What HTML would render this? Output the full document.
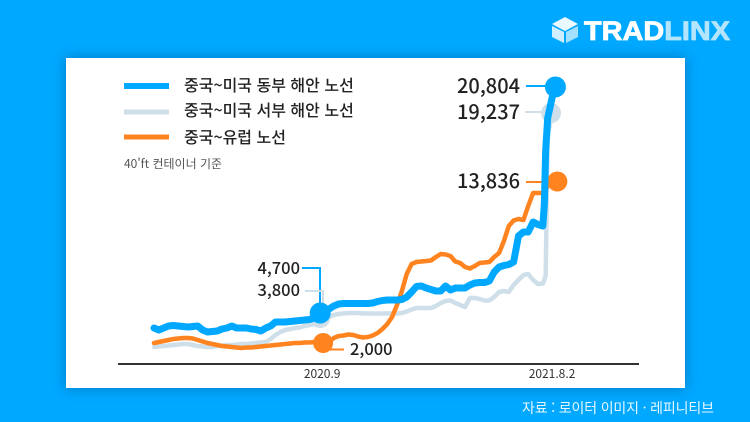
<!DOCTYPE html>
<html lang="ko">
<head>
<meta charset="utf-8">
<title>중국~미국 컨테이너 운임</title>
<style>
html,body{margin:0;padding:0;width:750px;height:422px;overflow:hidden;background:#00a8ff}
#card{position:absolute;left:66px;top:58px;width:619px;height:330px;background:#fff;box-shadow:0 0 12px rgba(0,50,100,.4)}
svg{position:absolute;left:0;top:0}
text{font-family:"Liberation Sans","Noto Sans CJK KR",sans-serif}
.kr{font-family:"Noto Sans CJK KR","Liberation Sans",sans-serif}
</style>
</head>
<body>
<div id="card"></div>
<svg id="chart" width="750" height="422" viewBox="0 0 750 422">
  <g>
    <polygon points="565,17 578,24 565,31 552,24" fill="#eaf8ff"/>
    <polygon points="552,26 564,32 564,43 552,37" fill="#cfeeff"/>
    <polygon points="566,32 578,26 578,37 566,43" fill="#a5e0ff"/>
    <text x="584" y="40" font-size="27" font-weight="700" textLength="146" lengthAdjust="spacingAndGlyphs" stroke-width="0.8"><tspan fill="#ffffff" stroke="#ffffff">TRAD</tspan><tspan fill="#b4e5ff" stroke="#b4e5ff">LINX</tspan></text>
  </g>
  <g>
    <rect x="124" y="83" width="45" height="6" fill="#00a8ff"/>
    <text class="kr" x="184" y="91" font-size="16" font-weight="500" fill="#222">중국~미국 동부 해안 노선</text>
    <rect x="124" y="109.500" width="45" height="5" fill="#cfdfe9"/>
    <text class="kr" x="184" y="116" font-size="16" font-weight="500" fill="#222">중국~미국 서부 해안 노선</text>
    <rect x="124" y="134.500" width="45" height="5" fill="#ff8420"/>
    <text class="kr" x="184" y="143" font-size="16" font-weight="500" fill="#222">중국~유럽 노선</text>
    <text class="kr" x="124" y="168" font-size="12" fill="#555">40'ft 컨테이너 기준</text>
  </g>
  <line x1="118" y1="364" x2="639" y2="364" stroke="#333" stroke-width="2"/>
  <g fill="none" stroke-width="2">
    <path d="M526 86H546" stroke="#00a8ff"/>
    <path d="M525 112H543" stroke="#cfdfe9"/>
    <path d="M526 182H548" stroke="#ff8420"/>
    <path d="M302 268H320V305" stroke="#00a8ff"/>
    <path d="M305 291H323V308" stroke="#cfdfe9"/>
    <path d="M330 349.500H344" stroke="#ff8420"/>
  </g>
  <g id="series"></g>
  <g id="ticks"></g>
  <g class="kr" font-weight="500" fill="#222">
    <text class="kr" x="520" y="93" font-size="20" text-anchor="end">20,804</text>
    <text class="kr" x="520" y="119" font-size="20" text-anchor="end">19,237</text>
    <text class="kr" x="520" y="188" font-size="20" text-anchor="end">13,836</text>
    <text class="kr" x="300" y="274" font-size="16.500" text-anchor="end">4,700</text>
    <text class="kr" x="300" y="296" font-size="16.500" text-anchor="end">3,800</text>
    <text class="kr" x="350" y="355" font-size="16.500">2,000</text>
  </g>
  <text class="kr" x="522" y="413" font-size="14" fill="#e8f7ff" textLength="192">자료 : 로이터 이미지 · 레피니티브</text>
</svg>
<script>
var weeks = [0,1,2,3,4,5,6,7,8,9,10,11,12,13,14,15,16,17,18,19,20,21,22,23,24,25,26,27,28,29,30,31,32,33,34,35,36,37,38,39,40,41,42,43,44,45,46,47,48,49,50,51,52,53,54,55,56,57,58,59,60,61,62,63,64,65,66,67,68,69,70,71,72,73,74,75,76,77,78,79,80,80.3,80.6,81,82,83];
var usEast = [3692,3550,3692,3834,3870,3834,3799,3763,3799,3834,3550,3408,3444,3479,3621,3692,3834,3692,3692,3692,3621,3586,3479,3692,3834,4118,4118,4118,4154,4189,4225,4260,4296,4402,4757,4828,5041,5254,5396,5432,5432,5432,5432,5432,5432,5467,5574,5645,5680,5680,5680,5716,5893,6248,6639,6674,6532,6426,6319,6319,6674,6390,6532,6532,6532,6745,6887,6923,6923,7029,7668,8023,8130,8201,8378,10224,10508,10508,11218,11041,10934,12425,16330,18602,20164,20804];
var usWest = [2343,2379,2414,2450,2485,2521,2556,2556,2485,2414,2379,2343,2343,2414,2450,2485,2485,2521,2556,2556,2592,2627,2663,2698,2911,3195,3408,3550,3621,3692,3728,3834,3905,3976,4118,4331,4473,4615,4686,4722,4757,4757,4757,4722,4722,4722,4722,4722,4722,4722,4722,4757,4864,5006,5112,5112,5112,5112,5254,5467,5609,5645,5467,5325,5183,5822,5822,5751,5645,5645,5893,6248,6319,6248,6745,7100,7455,7526,7100,6816,6852,7100,7455,17395,18957,18957];
var europe = [2627,2698,2769,2840,2911,2947,2982,2982,2947,2840,2734,2627,2556,2485,2414,2379,2343,2308,2272,2308,2308,2343,2379,2414,2450,2485,2521,2556,2592,2627,2627,2663,2663,2698,2627,2627,2698,2982,3124,3160,3231,3195,3089,3018,3053,3160,3337,3621,3976,4473,5325,6319,7526,8236,8378,8414,8449,8485,8733,8946,8911,8804,8414,8307,8023,7917,8094,8307,8343,8378,8733,9017,9869,10934,11325,11431,11360,12354,13277,13277,13277,13348,13561,13774,14058,14094];
var tickLabels = ["2020.9","2021.8.2"];
var tickWeeks = [34.6,81.9];
var westMarkerWeeks = [34.2,81.7];
var westMarkerValues = [4400,18957];
var europeMarkerWeeks = [34.8,83];
var europeMarkerValues = [2627,14094];
var eastMarkerWeeks = [34.2,82.6];
var eastMarkerValues = [4757,20804];

var NS = "http://www.w3.org/2000/svg";
function xScale(w){ return 154 + w * 4.86; }
function yScale(v){ return 380 - v / 71; }
function buildPath(vals){
  var d = "";
  for (var i = 0; i < vals.length; i++) {
    d += (i ? "L" : "M") + xScale(weeks[i]).toFixed(1) + " " + yScale(vals[i]).toFixed(1);
  }
  return d;
}
var seriesGroup = document.getElementById("series");
function addLine(vals, color, width, name){
  var p = document.createElementNS(NS, "path");
  p.setAttribute("d", buildPath(vals));
  p.setAttribute("fill", "none");
  p.setAttribute("stroke", color);
  p.setAttribute("stroke-width", width);
  p.setAttribute("stroke-linejoin", "round");
  p.setAttribute("stroke-linecap", "round");
  
  
  seriesGroup.appendChild(p);
}
function addMarkers(mWeeks, mValues, color, radius, name){
  for (var m = 0; m < mWeeks.length; m++) {
    var c = document.createElementNS(NS, "circle");
    c.setAttribute("cx", xScale(mWeeks[m]));
    c.setAttribute("cy", yScale(mValues[m]));
    c.setAttribute("r", radius);
    c.setAttribute("fill", color);
    
    
    seriesGroup.appendChild(c);
  }
}
addLine(usWest, "#cfdfe9", 4.5, "line-us-west");
addMarkers(westMarkerWeeks, westMarkerValues, "#cfdfe9", 10, "marker-us-west");
addLine(europe, "#ff8420", 4.5, "line-europe");
addMarkers(europeMarkerWeeks, europeMarkerValues, "#ff8420", 10, "marker-europe");
addLine(usEast, "#00a8ff", 7, "line-us-east");
addMarkers(eastMarkerWeeks, eastMarkerValues, "#00a8ff", 10.5, "marker-us-east");

var tickGroup = document.getElementById("ticks");
for (var t = 0; t < tickLabels.length; t++) {
  var tx = document.createElementNS(NS, "text");
  tx.setAttribute("x", xScale(tickWeeks[t]));
  tx.setAttribute("y", 378);
  tx.setAttribute("text-anchor", "middle");
  tx.setAttribute("font-size", "12");
  tx.setAttribute("fill", "#333");
  tx.setAttribute("class", "kr");
  
  
  tx.textContent = tickLabels[t];
  tickGroup.appendChild(tx);
}
</script>
</body>
</html>
